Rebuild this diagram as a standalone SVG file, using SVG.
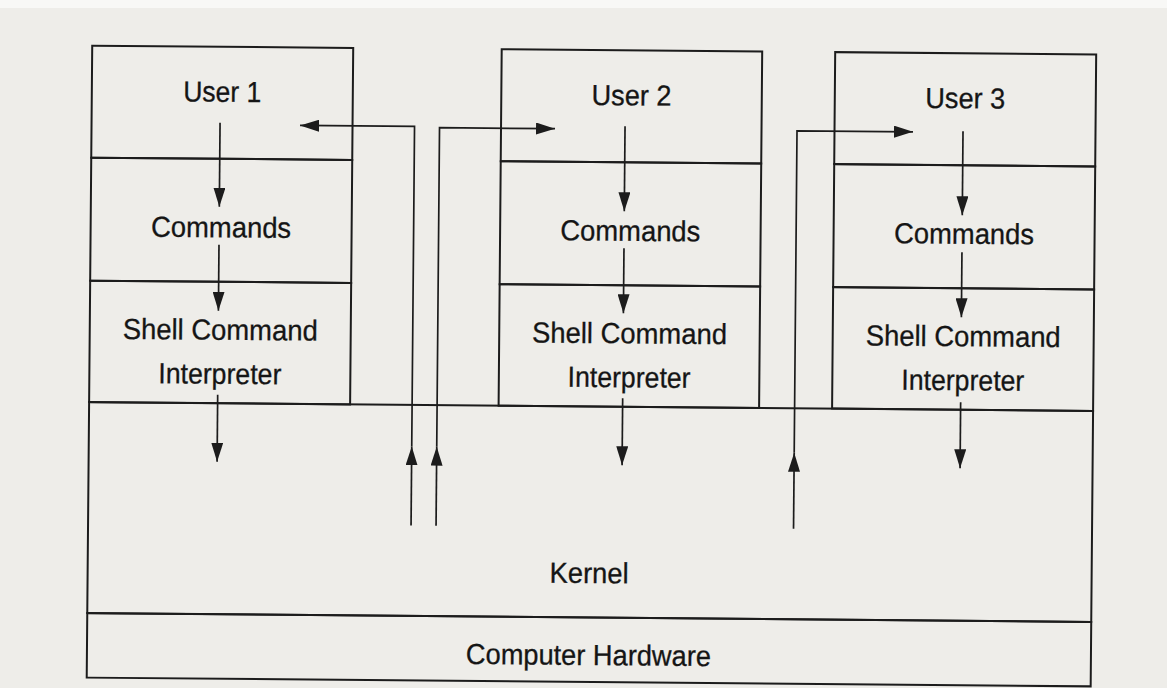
<svg xmlns="http://www.w3.org/2000/svg" width="1167" height="688" viewBox="0 0 1167 688">
<style>
.box{fill:none;stroke:#1c1c1c;stroke-width:2}
.lbl{font-family:"Liberation Sans",Arial,sans-serif;font-size:29px;fill:#151515;text-anchor:middle;stroke:#151515;stroke-width:0.3}
.con{fill:none;stroke:#1c1c1c;stroke-width:1.7}
.arr{marker-end:url(#ah)}
</style>
<defs>
<marker id="ah" markerUnits="userSpaceOnUse" markerWidth="20" markerHeight="12" refX="19" refY="6" orient="auto"><path d="M0,0 L19,6 L0,12 Z" fill="#1c1c1c"/></marker>
</defs>
<rect width="1167" height="688" fill="#eeede9"/>
<rect width="1167" height="8" fill="#f8f8f6"/>
<g transform="rotate(0.5 590 360)">
<g id="user1"><rect class="box" x="89.5" y="50" width="261" height="112"/><text class="lbl" x="220" y="105" textLength="78" lengthAdjust="spacingAndGlyphs">User 1</text></g>
<g id="commands1"><rect class="box" x="89.5" y="162" width="261" height="123"/><text class="lbl" x="220" y="240.5" textLength="140" lengthAdjust="spacingAndGlyphs">Commands</text></g>
<g id="shell1"><rect class="box" x="89.5" y="285" width="261" height="121.5"/><text class="lbl" x="220" y="343" textLength="195" lengthAdjust="spacingAndGlyphs">Shell Command</text><text class="lbl" x="220" y="387" textLength="123" lengthAdjust="spacingAndGlyphs">Interpreter</text></g>
<g id="user2"><rect class="box" x="499" y="50" width="260.5" height="112"/><text class="lbl" x="629.25" y="105" textLength="80" lengthAdjust="spacingAndGlyphs">User 2</text></g>
<g id="commands2"><rect class="box" x="499" y="162" width="260.5" height="123"/><text class="lbl" x="629.25" y="240.5" textLength="140" lengthAdjust="spacingAndGlyphs">Commands</text></g>
<g id="shell2"><rect class="box" x="499" y="285" width="260.5" height="121.5"/><text class="lbl" x="629.25" y="343" textLength="195" lengthAdjust="spacingAndGlyphs">Shell Command</text><text class="lbl" x="629.25" y="387" textLength="123" lengthAdjust="spacingAndGlyphs">Interpreter</text></g>
<g id="user3"><rect class="box" x="832.5" y="50" width="261" height="112"/><text class="lbl" x="963" y="105" textLength="80" lengthAdjust="spacingAndGlyphs">User 3</text></g>
<g id="commands3"><rect class="box" x="832.5" y="162" width="261" height="123"/><text class="lbl" x="963" y="240.5" textLength="140" lengthAdjust="spacingAndGlyphs">Commands</text></g>
<g id="shell3"><rect class="box" x="832.5" y="285" width="261" height="121.5"/><text class="lbl" x="963" y="343" textLength="195" lengthAdjust="spacingAndGlyphs">Shell Command</text><text class="lbl" x="963" y="387" textLength="123" lengthAdjust="spacingAndGlyphs">Interpreter</text></g>
<g id="kernel"><rect class="box" x="89.5" y="406.5" width="1004" height="211"/><text class="lbl" x="591" y="583" textLength="79" lengthAdjust="spacingAndGlyphs">Kernel</text></g>
<g id="hardware"><rect class="box" x="89.5" y="617.5" width="1004" height="64.5"/><text class="lbl" x="591" y="665" textLength="245" lengthAdjust="spacingAndGlyphs">Computer Hardware</text></g>
<g id="connectors">
<path class="con arr" d="M218,126 V210"/>
<path class="con arr" d="M218,248 V314"/>
<path class="con arr" d="M218,398 V465"/>
<path class="con arr" d="M623,126 V211"/>
<path class="con arr" d="M623,248 V313"/>
<path class="con arr" d="M623,398 V465"/>
<path class="con arr" d="M961,128 V212"/>
<path class="con arr" d="M961,249 V314"/>
<path class="con arr" d="M961,399 V465"/>
<path class="con arr" d="M412.5,527 V448"/>
<path class="con arr" d="M412.5,448 V128 H298"/>
<path class="con arr" d="M437.5,527 V448"/>
<path class="con arr" d="M437.5,448 V129 H553"/>
<path class="con arr" d="M795,527 V451"/>
<path class="con arr" d="M795,451 V129 H911"/>
</g>
</g>
</svg>
